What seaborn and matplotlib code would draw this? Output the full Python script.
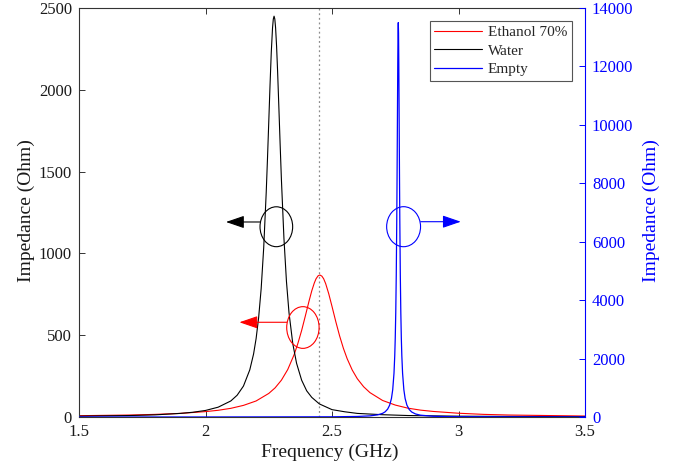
import matplotlib
matplotlib.use("Agg")
import matplotlib.pyplot as plt
from matplotlib.patches import Ellipse
import seaborn as sns
import pandas as pd

# ---------------- data ----------------
freq_ethanol = [1.5, 1.6, 1.7, 1.8, 1.9, 2.0, 2.05, 2.1, 2.15, 2.2,
                2.25, 2.275, 2.3, 2.325, 2.35, 2.365, 2.38, 2.395, 2.41, 2.42,
                2.43, 2.437, 2.445, 2.452, 2.46, 2.467, 2.475, 2.487, 2.5, 2.515,
                2.53, 2.545, 2.56, 2.58, 2.6, 2.625, 2.65, 2.7, 2.75, 2.8,
                2.85, 2.9, 3.0, 3.1, 3.2, 3.35, 3.5]
imp_ethanol = [8, 10, 12, 16, 22, 33, 41, 53, 71, 98,
               144, 178, 225, 290, 380, 449, 529, 620, 713, 771,
               819, 845, 863, 868, 861, 845, 815, 754, 676, 583,
               496, 420, 356, 287, 234, 185, 149, 101, 73, 54,
               42, 34, 23, 16, 12, 9, 6]

freq_water = [1.5, 1.6, 1.7, 1.8, 1.9, 1.95, 2.0, 2.05, 2.1, 2.125,
              2.15, 2.175, 2.19, 2.2, 2.21, 2.22, 2.23, 2.24, 2.245, 2.25,
              2.255, 2.26, 2.265, 2.268, 2.271, 2.274, 2.277, 2.281, 2.285, 2.29,
              2.295, 2.3, 2.31, 2.32, 2.33, 2.345, 2.36, 2.38, 2.4, 2.42,
              2.45, 2.5, 2.55, 2.6, 2.7, 2.8, 3.0, 3.25, 3.5]
imp_water = [5, 7, 9, 13, 22, 29, 40, 60, 98, 133,
             189, 288, 385, 479, 607, 784, 1033, 1373, 1579, 1801,
             2026, 2230, 2380, 2432, 2450, 2432, 2380, 2265, 2112, 1892,
             1667, 1453, 1093, 828, 638, 448, 328, 225, 160, 120,
             80, 45, 32, 22, 14, 9, 5, 3, 2]

freq_empty = [1.5, 2.0, 2.5, 2.6, 2.65, 2.68, 2.7, 2.71, 2.72, 2.728,
              2.735, 2.74, 2.745, 2.748, 2.75, 2.752, 2.754, 2.756, 2.757, 2.758,
              2.759, 2.76, 2.761, 2.762, 2.763, 2.764, 2.765, 2.766, 2.767, 2.768,
              2.77, 2.772, 2.774, 2.776, 2.779, 2.784, 2.789, 2.796, 2.805, 2.815,
              2.83, 2.85, 2.9, 2.95, 3.0, 3.5]
imp_empty = [0.3, 0.8, 7, 18.5, 39, 72, 125, 177, 270, 408,
             635, 935, 1495, 2095, 2700, 3573, 4860, 6750, 7969, 9346,
             10800, 12150, 13135, 13500, 13135, 12150, 10800, 9346, 7969, 6750,
             4860, 3573, 2700, 2095, 1495, 935, 635, 408, 258, 171,
             104, 62, 26, 13.7, 9, 1]

series_names = ["Ethanol 70%", "Water", "Empty"]
x_ticks = [1.5, 2, 2.5, 3, 3.5]
x_tick_labels = ["1.5", "2", "2.5", "3", "3.5"]
left_ticks = [0, 500, 1000, 1500, 2000, 2500]
right_ticks = [0, 2000, 4000, 6000, 8000, 10000, 12000, 14000]
ref_freq = 2.45

# ---------------- style ----------------
sns.set_style("ticks")
plt.rcParams["font.family"] = ["Liberation Serif", "DejaVu Serif"]

RED = "#ff0000"
BLACK = "#000000"
BLUE = "#0000ff"
SPINE = "#333333"

fig = plt.figure(figsize=(6.88, 4.76), dpi=100)
ax = fig.add_axes([79 / 688, 1 - 417 / 476, 506 / 688, 409 / 476])
ax2 = ax.twinx()

df_e = pd.DataFrame({"f": freq_ethanol, "z": imp_ethanol})
df_w = pd.DataFrame({"f": freq_water, "z": imp_water})
df_b = pd.DataFrame({"f": freq_empty, "z": imp_empty})

sns.lineplot(data=df_e, x="f", y="z", ax=ax, color=RED, lw=0.8, sort=False)
sns.lineplot(data=df_w, x="f", y="z", ax=ax, color=BLACK, lw=0.8, sort=False)
sns.lineplot(data=df_b, x="f", y="z", ax=ax2, color=BLUE, lw=0.9, sort=False)

ax.axvline(ref_freq, color="#8c8c8c", lw=0.9, ls=(0, (1.5, 2.2)), zorder=1)

ax.set_xlim(1.5, 3.5)
ax.set_ylim(0, 2500)
ax2.set_ylim(0, 14000)

ax.set_xticks(x_ticks)
ax.set_xticklabels(x_tick_labels)
ax.set_yticks(left_ticks)
ax2.set_yticks(right_ticks)

ax.tick_params(axis="both", direction="in", length=4, width=0.7, colors=SPINE,
               labelsize=12, labelcolor="#1a1a1a", pad=5)
ax.tick_params(axis="x", top=True, bottom=True)
ax.tick_params(axis="y", left=True, right=False)
ax2.tick_params(axis="y", direction="in", length=4, width=0.7, colors=BLUE,
                labelsize=12, labelcolor=BLUE, pad=5)

for s in ["left", "bottom", "top"]:
    ax.spines[s].set_visible(True)
    ax.spines[s].set_color(SPINE)
    ax.spines[s].set_linewidth(0.8)
ax.spines["right"].set_visible(False)
for s in ["left", "bottom", "top"]:
    ax2.spines[s].set_visible(False)
ax2.spines["right"].set_visible(True)
ax2.spines["right"].set_color(BLUE)
ax2.spines["right"].set_linewidth(0.8)

ax.set_xlabel("Frequency (GHz)", fontsize=14, color="#1a1a1a")
ax.set_ylabel("Impedance (Ohm)", fontsize=14, color="#1a1a1a")
ax2.set_ylabel("Impedance (Ohm)", fontsize=14, color=BLUE)
ax.xaxis.set_label_coords(0.496, -0.066)
ax.yaxis.set_label_coords(-0.087, 0.505)
ax2.yaxis.set_label_coords(1.1146, 0.505)

# ---------------- annotations: circles and arrows ----------------
ax.add_patch(Ellipse((2.28, 1163), 0.129, 244, fill=False, ec=BLACK, lw=0.8, zorder=5))
ax.add_patch(Ellipse((2.385, 547), 0.128, 255, fill=False, ec=RED, lw=0.8, zorder=5))
ax2.add_patch(Ellipse((2.783, 6514), 0.134, 1370, fill=False, ec=BLUE, lw=0.8, zorder=5))

arrow_style = "-|>,head_length=0.7,head_width=0.24"
ax.annotate("", xy=(2.081, 1192), xytext=(2.216, 1192),
            arrowprops=dict(arrowstyle=arrow_style, color=BLACK, lw=0.8,
                            mutation_scale=16, shrinkA=0, shrinkB=0))
ax.annotate("", xy=(2.134, 579), xytext=(2.321, 579),
            arrowprops=dict(arrowstyle=arrow_style, color=RED, lw=0.8,
                            mutation_scale=16, shrinkA=0, shrinkB=0))
ax2.annotate("", xy=(3.009, 6685), xytext=(2.8506, 6685),
             arrowprops=dict(arrowstyle=arrow_style, color=BLUE, lw=0.8,
                             mutation_scale=16, shrinkA=0, shrinkB=0))

# ---------------- legend ----------------
for a in (ax, ax2):
    if a.get_legend() is not None:
        a.get_legend().remove()
handles = [ax.lines[0], ax.lines[1], ax2.lines[0]]
leg = ax2.legend(handles, series_names, loc="upper right",
                 bbox_to_anchor=(0.9737, 0.969), borderaxespad=0,
                 fontsize=11, frameon=True, fancybox=False, framealpha=1,
                 edgecolor="#555555", handlelength=3.1, handletextpad=0.4,
                 labelspacing=0.32, borderpad=0.3)
leg.get_frame().set_linewidth(0.8)

fig.savefig("out.png", dpi=100)
